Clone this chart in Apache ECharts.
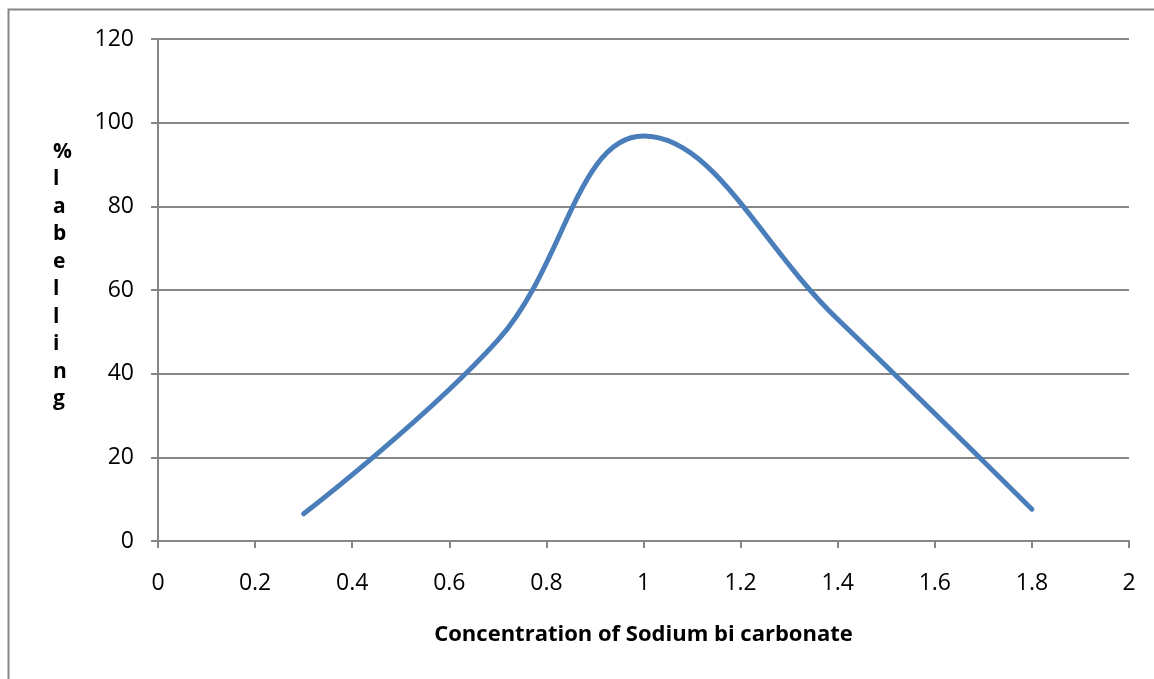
<!DOCTYPE html>
<html>
<head>
  <meta charset="utf-8">
  <title>% labelling vs Sodium bi carbonate</title>
  <script src="https://cdn.jsdelivr.net/npm/echarts@6/dist/echarts.min.js"></script>
  <style>
    html, body { margin: 0; padding: 0; background: #fff; }
    #chart { width: 1154px; height: 679px; }
  </style>
</head>
<body>
<div id="chart"></div>
<script>
  // concentration (x) and % labelling (y)
  var concentration = [0.3, 0.7, 1.0, 1.4, 1.8];
  var labelling = [6.5, 48, 96.8, 53, 7.6];
  var yTitle = ['%', 'l', 'a', 'b', 'e', 'l', 'l', 'i', 'n', 'g'];
  var xTitle = 'Concentration of Sodium bi carbonate';

  var points = concentration.map(function (c, i) {
    return [c, labelling[i]];
  });

  var axisGrey = '#868686';
  var font = '"Open Sans", "Liberation Sans", sans-serif';

  var chart = echarts.init(document.getElementById('chart'));
  chart.setOption({
    animation: false,
    backgroundColor: '#fff',
    grid: { left: 158, right: 25, top: 39, bottom: 138 },
    graphic: [
      {
        type: 'rect',
        shape: { x: 8.5, y: 9.5, width: 1200, height: 700 },
        style: { fill: 'none', stroke: axisGrey, lineWidth: 2 },
        silent: true
      },
      {
        type: 'text',
        left: 53,
        top: 138,
        style: {
          text: yTitle.join('\n'),
          font: 'bold 21px ' + font,
          lineHeight: 27.5,
          align: 'center',
          fill: '#000'
        }
      }
    ],
    xAxis: {
      type: 'value',
      min: 0,
      max: 2,
      interval: 0.2,
      name: xTitle,
      nameLocation: 'middle',
      nameGap: 83,
      nameTextStyle: { fontFamily: font, fontWeight: 'bold', fontSize: 22, color: '#000' },
      axisLine: { show: true, lineStyle: { color: axisGrey, width: 2 } },
      axisTick: { show: true, length: 7, lineStyle: { color: axisGrey, width: 2 } },
      axisLabel: { margin: 31, fontFamily: font, fontSize: 23, color: '#000' },
      splitLine: { show: false }
    },
    yAxis: {
      type: 'value',
      min: 0,
      max: 120,
      interval: 20,
      axisLine: { show: true, lineStyle: { color: axisGrey, width: 2 } },
      axisTick: { show: true, length: 7, lineStyle: { color: axisGrey, width: 2 } },
      axisLabel: { margin: 24, fontFamily: font, fontSize: 23, color: '#000' },
      splitLine: { show: true, lineStyle: { color: axisGrey, width: 2 } }
    },
    series: [{
      type: 'line',
      data: points,
      smooth: 0.4,
      showSymbol: false,
      lineStyle: { color: '#4a7ebb', width: 5, cap: 'round' }
    }]
  });
</script>
</body>
</html>
